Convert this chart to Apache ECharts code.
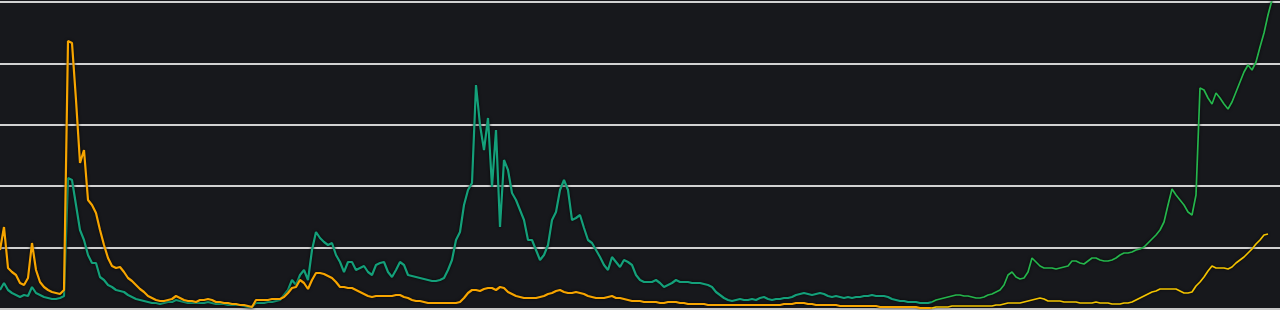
<!DOCTYPE html>
<html>
<head>
<meta charset="utf-8">
<script src="https://cdn.jsdelivr.net/npm/echarts@6/dist/echarts.min.js"></script>
<style>
  html, body { margin: 0; padding: 0; background: #17181c; }
  #chart { width: 1280px; height: 310px; }
</style>
</head>
<body>
<div id="chart"></div>
<script>
// Sample positions (no tick labels are shown in the reference)
const sampleCount = 321;
const categories = [];
for (let i = 0; i < sampleCount; i++) categories.push(String(i));

// Y-axis ticks (gridlines only, no labels)
const yMax = 307;
const yInterval = 61.4;

// Historical series A (teal), samples 0..233
const tealValues = [
  19,26,19,16,14,12,14,13,22,16, 14,12,11,10,10,11,13,131,129,104,
  79,69,54,46,46,32,29,24,22,19, 18,17,14,12,10,9,8,7,6,6,
  5,6,7,7,9,8,7,6,6,6, 6,6,7,6,5,5,5,4,4,4,
  4,3,2,2,6,6,6,7,7,8, 9,14,19,29,24,34,39,29,59,77,
  71,67,64,66,54,47,37,47,47,39, 41,43,37,34,44,46,47,37,32,39,
  47,44,34,33,32,31,30,29,28,28, 29,31,39,49,69,77,104,119,126,224,
  184,159,191,122,179,82,149,139,116,109, 99,89,69,69,59,49,54,64,89,97,
  119,129,119,89,91,94,81,69,66,59, 52,44,39,52,47,42,49,47,44,34,
  29,27,27,27,29,26,22,24,26,29, 27,27,27,26,26,26,25,24,22,17,
  14,11,9,8,9,10,9,9,10,9, 11,12,10,9,10,10,11,11,12,14,
  15,16,15,14,15,16,15,13,12,13, 12,11,12,11,12,12,13,13,14,13,
  13,13,12,10,9,8,8,7,7,7, 6,6,6,7
];

// Historical series B (orange), samples 0..233
const orangeValues = [
  59,82,41,37,34,26,24,31,66,39, 27,22,19,17,16,15,19,268,266,209,
  146,159,109,104,96,79,64,51,43,41, 42,37,31,28,24,20,17,13,11,9,
  8,8,9,10,13,11,9,8,8,7, 9,9,10,9,7,7,6,6,5,5,
  4,4,3,2,9,9,9,9,10,10, 10,12,16,21,22,29,26,20,29,36,
  36,35,33,31,27,22,22,21,21,19, 17,15,13,12,13,13,13,13,13,14,
  14,12,11,9,8,8,7,6,6,6, 6,6,6,6,6,7,11,16,19,19,
  18,20,21,21,19,22,21,17,15,13, 12,11,11,11,11,12,13,15,16,18,
  19,17,16,16,17,16,15,13,12,11, 11,11,12,13,11,11,10,9,8,8,
  8,7,7,7,7,6,6,7,7,7, 6,6,5,5,5,5,5,4,4,4,
  4,4,4,4,4,4,4,4,4,4, 4,4,4,4,4,4,5,5,5,6,
  6,6,5,5,4,4,4,4,4,4, 3,3,3,3,3,3,3,3,3,3,
  2,2,2,2,2,2,2,2,2,2, 1,1,1,1
];

// Later segment of series A (green), samples 233..318
const greenStart = 233;
const greenValues = [
  7,9,10,11,12,13,14,14,13,13, 12,11,11,12,14,15,17,19,24,34,
  37,32,30,31,37,51,47,43,41,41, 41,40,41,42,43,48,48,46,45,48,
  51,51,49,48,48,49,51,54,56,56, 57,59,60,62,66,70,74,79,87,104,
  120,114,109,104,97,94,114,221,219,211, 205,216,211,205,200,207,217,227,237,244,
  239,247,262,276,294,309
];

// Later segment of series B (yellow), samples 233..317
const yellowStart = 233;
const yellowValues = [
  1,2,2,2,2,3,3,3,3,3, 3,3,3,3,3,3,4,4,5,6,
  6,6,6,7,8,9,10,11,10,8, 8,8,8,7,7,7,7,6,6,6,
  6,7,6,6,6,5,5,5,6,6, 7,9,11,13,15,17,18,20,20,20,
  20,20,18,16,16,17,23,27,32,38, 43,41,41,41,40,42,46,49,52,56,
  60,65,69,74,75
];

function pad(start, values) {
  const out = [];
  for (let i = 0; i < start; i++) out.push('-');
  return out.concat(values);
}

const shadow = { shadowColor: 'rgba(0,0,0,0.85)', shadowBlur: 3 };

const chart = echarts.init(document.getElementById('chart'), null, { renderer: 'canvas' });
chart.setOption({
  backgroundColor: '#17181c',
  animation: false,
  grid: { left: 0, right: 0, top: 2, bottom: 1, containLabel: false },
  xAxis: {
    type: 'category',
    data: categories,
    boundaryGap: false,
    axisLine: { show: true, lineStyle: { color: '#c8c8c8', width: 3 } },
    axisTick: { show: false },
    axisLabel: { show: false },
    splitLine: { show: false }
  },
  yAxis: {
    type: 'value',
    min: 0,
    max: yMax,
    interval: yInterval,
    axisLine: { show: false },
    axisTick: { show: false },
    axisLabel: { show: false },
    splitLine: { show: true, lineStyle: { color: '#d2d2d2', width: 2 } }
  },
  series: [
    { type: 'line', data: tealValues, showSymbol: false, z: 2,
      lineStyle: Object.assign({ color: '#14a07a', width: 2.2 }, shadow) },
    { type: 'line', data: orangeValues, showSymbol: false, z: 3,
      lineStyle: Object.assign({ color: '#f7a500', width: 2.2 }, shadow) },
    { type: 'line', data: pad(greenStart, greenValues), showSymbol: false, z: 2,
      lineStyle: Object.assign({ color: '#25b54c', width: 1.7 }, shadow) },
    { type: 'line', data: pad(yellowStart, yellowValues), showSymbol: false, z: 3,
      lineStyle: Object.assign({ color: '#f3c300', width: 1.7 }, shadow) }
  ]
});
</script>
</body>
</html>
